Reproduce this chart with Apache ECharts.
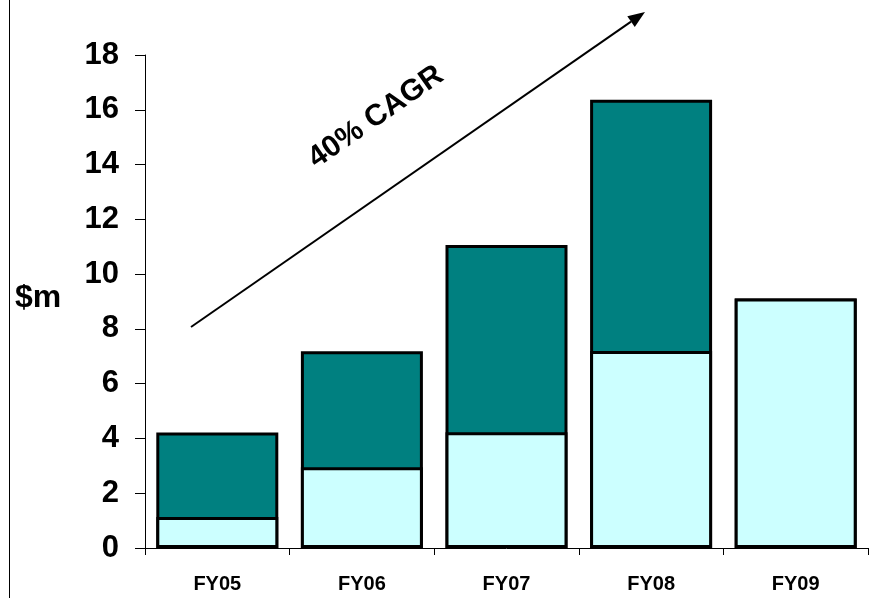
<!DOCTYPE html>
<html>
<head>
<meta charset="utf-8">
<script src="https://cdn.jsdelivr.net/npm/echarts@6/dist/echarts.min.js"></script>
<style>
html,body{margin:0;padding:0;background:#fff;}
#chart{width:892px;height:598px;}
</style>
</head>
<body>
<div id="chart"></div>
<script>
var categories = ['FY05', 'FY06', 'FY07', 'FY08', 'FY09'];
var lowerValues = [1.13, 2.95, 4.23, 7.19, 9.11];
var totalValues = [4.22, 7.18, 11.06, 16.37, 9.11];
var yTicks = { min: 0, max: 18, interval: 2 };
var yAxisName = '$m';
var annotationText = '40% CAGR';

var FONT = '"Liberation Sans", Arial, sans-serif';
var chart = echarts.init(document.getElementById('chart'), null, { renderer: 'canvas' });

// arrow geometry (annotation)
var ax1 = 191, ay1 = 327, ax2 = 645, ay2 = 12;
var dx = ax2 - ax1, dy = ay2 - ay1, len = Math.sqrt(dx * dx + dy * dy);
var ux = dx / len, uy = dy / len;
var headL = 17, headW = 6.5;
var bx = ax2 - ux * headL, by = ay2 - uy * headL;
var px = -uy * headW, py = ux * headW;

chart.setOption({
  animation: false,
  backgroundColor: '#fff',
  grid: { left: 145, right: 24, top: 55, bottom: 50 },
  xAxis: {
    type: 'category',
    data: categories,
    axisLine: { show: true, lineStyle: { color: '#000', width: 1 } },
    axisTick: { show: true, length: 7, lineStyle: { color: '#000' } },
    axisLabel: { color: '#000', fontFamily: FONT, fontWeight: 'bold', fontSize: 20, margin: 26 },
    splitLine: { show: false }
  },
  yAxis: {
    type: 'value',
    min: yTicks.min, max: yTicks.max, interval: yTicks.interval,
    axisLine: { show: true, lineStyle: { color: '#000', width: 1 } },
    axisTick: { show: true, length: 10, lineStyle: { color: '#000' } },
    axisLabel: { color: '#000', fontFamily: FONT, fontWeight: 'bold', fontSize: 31, margin: 26 },
    splitLine: { show: false }
  },
  series: [
    {
      type: 'bar', data: totalValues, barWidth: 122, barGap: '-100%',
      itemStyle: { color: '#008080', borderColor: '#000', borderWidth: 3 }
    },
    {
      type: 'bar', data: lowerValues, barWidth: 122, barGap: '-100%',
      itemStyle: { color: '#CCFFFF', borderColor: '#000', borderWidth: 3 }
    }
  ],
  graphic: [
    { type: 'line', shape: { x1: 9.5, y1: 0, x2: 9.5, y2: 598 }, style: { stroke: '#000', lineWidth: 1 } },
    { type: 'text', left: 15, top: 282, style: { text: yAxisName, font: 'bold 32px ' + FONT, fill: '#000' } },
    { type: 'line', shape: { x1: ax1, y1: ay1, x2: bx, y2: by }, style: { stroke: '#000', lineWidth: 2 } },
    { type: 'polygon', shape: { points: [[ax2, ay2], [bx + px, by + py], [bx - px, by - py]] }, style: { fill: '#000' } },
    {
      type: 'text', x: 376, y: 117, rotation: Math.atan2(-dy, dx),
      style: { text: annotationText, font: 'bold 30px ' + FONT, fill: '#000', align: 'center', verticalAlign: 'middle' }
    }
  ]
});
</script>
</body>
</html>
